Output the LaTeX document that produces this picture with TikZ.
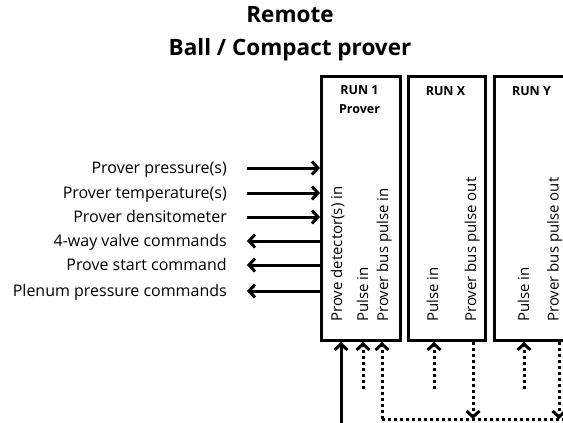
\documentclass[tikz,border=0pt]{standalone}
\usepackage{fontspec}
\setmainfont{Open Sans}
\usetikzlibrary{arrows.meta}
\begin{document}
\begin{tikzpicture}[x=1pt,y=-1pt,
  runbox/.style={draw,line width=3pt,minimum width=#1,minimum height=264pt,inner sep=0pt,anchor=north west},
  boxtitle/.style={font=\fontsize{12.5}{19}\selectfont\bfseries,align=center,inner sep=0pt},
  lbl/.style={font=\fontsize{16}{19}\selectfont,anchor=base east,inner sep=0pt},
  vlbl/.style={font=\fontsize{15}{18}\selectfont,rotate=90,anchor=base west,inner sep=0pt},
  title/.style={font=\fontsize{22.5}{27}\selectfont\bfseries,anchor=base,inner sep=0pt},
  sig/.style={line width=3pt,-{Straight Barb[length=6pt,width=13pt]}},
  dots/.style={line width=3pt,dash pattern=on 3pt off 3pt},
]
\useasboundingbox (0,0) rectangle (563,423);
\node[title] (t1) at (290,23) {Remote};
\node[title] (t2) at (290,55) {Ball / Compact prover};

\node[runbox=79pt] (b1) at (320,75) {};
\node[runbox=77pt] (bx) at (407,75) {};
\node[runbox=77pt] (by) at (493,75) {};

\node[boxtitle] (h1) at (359.5,100) {RUN 1\\Prover};
\node[boxtitle] (hx) at (445.5,91) {RUN X};
\node[boxtitle] (hy) at (531.5,91) {RUN Y};

\node[vlbl] (v1) at (342,322) {Prove detector(s) in};
\node[vlbl] (v2) at (368,322) {Pulse in};
\node[vlbl] (v3) at (388,322) {Prover bus pulse in};
\node[vlbl] (v4) at (438,322) {Pulse in};
\node[vlbl] (v5) at (476,322) {Prover bus pulse out};
\node[vlbl] (v6) at (529,322) {Pulse in};
\node[vlbl] (v7) at (558.5,322) {Prover bus pulse out};

\node[lbl] (l1) at (227,173) {Prover pressure(s)};
\node[lbl] (l2) at (227,198) {Prover temperature(s)};
\node[lbl] (l3) at (227,222) {Prover densitometer};
\node[lbl] (l4) at (227,246) {4-way valve commands};
\node[lbl] (l5) at (227,270) {Prove start command};
\node[lbl] (l6) at (227,296) {Plenum pressure commands};

\coordinate (a1) at (247,168);
\coordinate (a2) at (247,193);
\coordinate (a3) at (247,217);
\coordinate (a4) at (247,241);
\coordinate (a5) at (247,265);
\coordinate (a6) at (247,291);
\draw[sig] (a1) -- (a1 -| b1.west);
\draw[sig] (a2) -- (a2 -| b1.west);
\draw[sig] (a3) -- (a3 -| b1.west);
\draw[sig] (a4 -| b1.west) -- (a4);
\draw[sig] (a5 -| b1.west) -- (a5);
\draw[sig] (a6 -| b1.west) -- (a6);

% bottom signals
\coordinate (s1) at (341,425);
\draw[sig] (s1) -- (s1 |- b1.south);
\coordinate (p1) at (363,389);
\coordinate (p2) at (434,389);
\coordinate (p3) at (524,389);
\draw[sig,dots] (p1) -- (p1 |- b1.south);
\draw[sig,dots] (p2) -- (p2 |- bx.south);
\draw[sig,dots] (p3) -- (p3 |- by.south);
\coordinate (bus0) at (382,419);
\coordinate (busx) at (473,419);
\coordinate (busy) at (559,419);
\coordinate (busend) at (570,419);
\draw[dots] (bus0) -- (busend);
\draw[sig,dots] (bus0) -- (bus0 |- b1.south);
\draw[sig,dots] (busx |- bx.south) -- (busx);
\draw[sig,dots] (busy |- by.south) -- (busy);
\end{tikzpicture}
\end{document}
